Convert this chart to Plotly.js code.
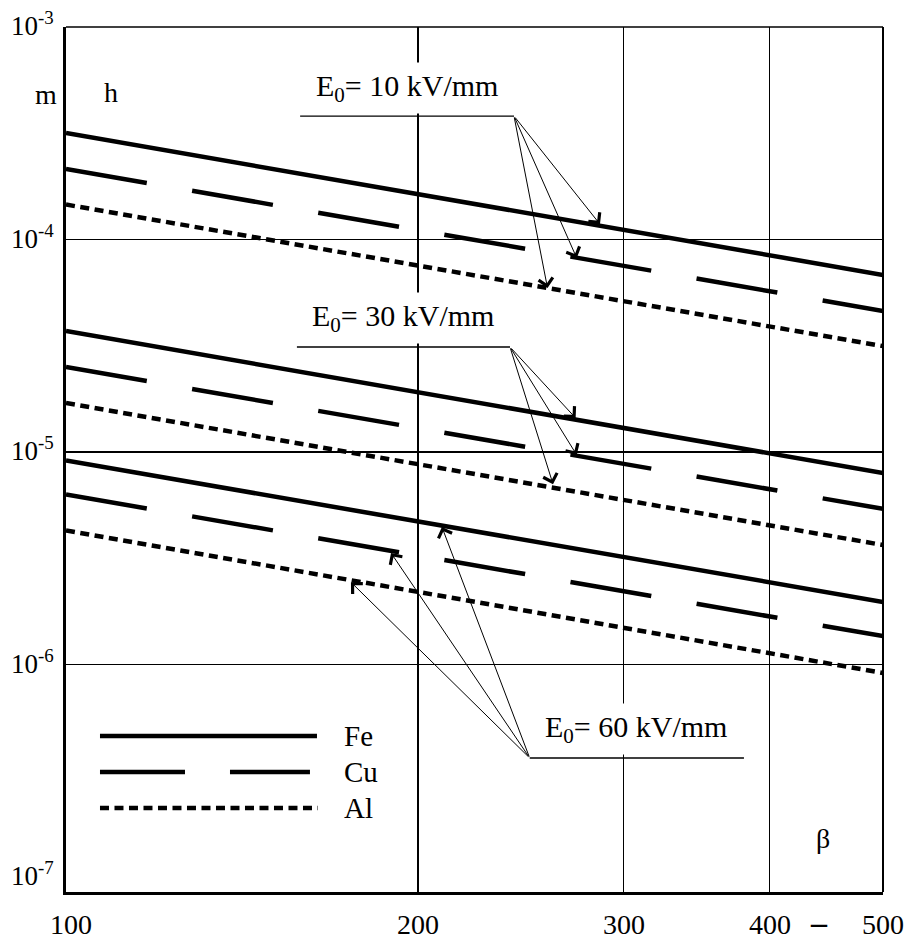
<!DOCTYPE html>
<html>
<head>
<meta charset="utf-8">
<script src="https://cdn.plot.ly/plotly-3.0.1.min.js"></script>
<style>html,body{margin:0;padding:0;background:#fff}#chart{width:908px;height:942px}</style>
</head>
<body>
<div id="chart"></div>
<script>
// ---- data (beta, h in m) ----
const beta = [100, 500];
const fe10 = [3.17e-4, 6.81e-5];
const cu10 = [2.15e-4, 4.61e-5];
const al10 = [1.46e-4, 3.15e-5];
const fe30 = [3.71e-5, 7.96e-6];
const cu30 = [2.51e-5, 5.40e-6];
const al30 = [1.70e-5, 3.65e-6];
const fe60 = [9.12e-6, 1.97e-6];
const cu60 = [6.31e-6, 1.36e-6];
const al60 = [4.27e-6, 9.12e-7];

const materials = ['Fe', 'Cu', 'Al'];
const fieldLabels = ['E<sub>0</sub>= 10 kV/mm', 'E<sub>0</sub>= 30 kV/mm', 'E<sub>0</sub>= 60 kV/mm'];
const xTickVals = [100, 200, 300, 400, 500];
const xTickText = ['100', '200', '300', '400', '500'];
const yTickVals = [1e-3, 1e-4, 1e-5, 1e-6, 1e-7];
const yTickText = ['10<sup>-3</sup>', '10<sup>-4</sup>', '10<sup>-5</sup>', '10<sup>-6</sup>', '10<sup>-7</sup>'];

// arrow tips (beta, h) on each curve, per field group [Fe, Cu, Al]
const tipBeta = [[286.3, 273.5, 258.2], [272.9, 273.5, 261.0], [209.7, 189.7, 175.3]];
const tipH = [[1.18e-4, 8.18e-5, 5.91e-5], [1.445e-5, 9.68e-6, 7.06e-6], [4.44e-6, 3.35e-6, 2.44e-6]];

// ---- styling / layout geometry ----
const FONT = '"Liberation Serif", "Times New Roman", "DejaVu Serif", serif';
const styles = {
  Fe: {width: 4.5, dash: 'solid'},
  Cu: {width: 4.5, dash: '82px,46px'},
  Al: {width: 4.5, dash: '9px,5.5px'}
};
const groups = [[fe10, cu10, al10], [fe30, cu30, al30], [fe60, cu60, al60]];

const traces = [];
groups.forEach(function (g) {
  g.forEach(function (vals, mi) {
    const m = materials[mi];
    traces.push({
      x: beta, y: vals, type: 'scatter', mode: 'lines',
      line: {color: '#000', width: styles[m].width, dash: styles[m].dash},
      showlegend: false, hoverinfo: 'skip', cliponaxis: false
    });
  });
});

// callout geometry: label centre, underline span and arrow tail (in beta,h)
const callouts = [
  {tx: 195.7, ty: 5.16e-4, u0: 158.6, u1: 241.7, uy: 3.81e-4},
  {tx: 194.2, ty: 4.27e-5, u0: 157.6, u1: 239.8, uy: 3.12e-5},
  {tx: 307.4, ty: 4.97e-7, u0: 249.3, u1: 380.2, uy: 3.63e-7}
];
const tails = [[241.7, 3.81e-4], [239.8, 3.12e-5], [249.3, 3.63e-7]];

const L = Math.log10;
const annotations = [];
const shapes = [];

// y tick labels
yTickVals.forEach(function (v, i) {
  annotations.push({x: -0.012, xref: 'paper', xanchor: 'right', y: L(v), yref: 'y', yanchor: 'middle',
    yshift: 3, text: yTickText[i], showarrow: false, font: {family: FONT, size: 27, color: '#000'}});
});
// x tick labels
xTickVals.forEach(function (v, i) {
  annotations.push({x: L(v), xref: 'x', xanchor: 'center', xshift: i === 0 ? 5 : 0, y: -0.0575, yref: 'paper', yanchor: 'bottom',
    text: xTickText[i], showarrow: false, font: {family: FONT, size: 28, color: '#000'}});
});
annotations.push({x: 0.935, xref: 'paper', y: -0.0575, yref: 'paper', yanchor: 'bottom', text: '<b>–</b>',
  showarrow: false, font: {family: FONT, size: 32, color: '#000'}});
// axis names
annotations.push({x: -0.040, xref: 'paper', y: 0.942, yref: 'paper', text: 'm', showarrow: false,
  font: {family: FONT, size: 28, color: '#000'}});
annotations.push({x: 0.044, xref: 'paper', y: 0.944, yref: 'paper', text: 'h', showarrow: false,
  font: {family: FONT, size: 28, color: '#000'}});
annotations.push({x: 0.9376, xref: 'paper', y: 0.0416, yref: 'paper', text: 'β', showarrow: false,
  font: {family: FONT, size: 28, color: '#000'}});

// field callouts
callouts.forEach(function (c, gi) {
  annotations.push({x: L(c.tx), xref: 'x', y: L(c.ty), yref: 'y', text: fieldLabels[gi], showarrow: false,
    bgcolor: '#fff', borderpad: 6, font: {family: FONT, size: 30, color: '#000'}});
  shapes.push({type: 'line', xref: 'x', yref: 'y', x0: c.u0, x1: c.u1, y0: c.uy, y1: c.uy,
    line: {color: '#000', width: 1.3}});
  for (let mi = 0; mi < 3; mi++) {
    annotations.push({x: L(tipBeta[gi][mi]), y: L(tipH[gi][mi]), xref: 'x', yref: 'y',
      ax: L(tails[gi][0]), ay: L(tails[gi][1]), axref: 'x', ayref: 'y',
      text: '', showarrow: true, arrowhead: 4, arrowsize: 2.8, arrowwidth: 1,
      arrowcolor: '#000', standoff: 0, startstandoff: 0});
  }
});

// frame top/right
shapes.push({type: 'line', xref: 'paper', yref: 'paper', x0: 0, x1: 1, y0: 1, y1: 1, line: {color: '#000', width: 1.7}});
shapes.push({type: 'line', xref: 'paper', yref: 'paper', x0: 1, x1: 1, y0: 0, y1: 1, line: {color: '#000', width: 2}});

// legend samples
const legY = [0.1803, 0.1387, 0.0971];
const legX1 = [0.3072, 0.2986, 0.3084];
materials.forEach(function (m, i) {
  shapes.push({type: 'line', xref: 'paper', yref: 'paper', x0: 0.0416, x1: legX1[i], y0: legY[i], y1: legY[i],
    line: {color: '#000', width: styles[m].width, dash: m === 'Cu' ? '85px,45px' : styles[m].dash}});
  annotations.push({x: 0.3378, xref: 'paper', xanchor: 'left', y: legY[i], yref: 'paper', yanchor: 'middle',
    text: m, showarrow: false, font: {family: FONT, size: 29, color: '#000'}});
});

const layout = {
  width: 908, height: 942,
  margin: {l: 66, r: 25, t: 27, b: 50, pad: 0},
  paper_bgcolor: '#fff', plot_bgcolor: '#fff',
  showlegend: false,
  font: {family: FONT, color: '#000'},
  xaxis: {type: 'log', range: [L(100), L(500)], tickvals: xTickVals, showticklabels: false, ticks: '',
    showgrid: true, gridcolor: '#000', gridwidth: 1.3, zeroline: false,
    showline: true, linecolor: '#000', linewidth: 3, mirror: false, fixedrange: true},
  yaxis: {type: 'log', range: [-7.0706, -3], tickvals: [1e-4, 1e-5, 1e-6], showticklabels: false, ticks: '',
    showgrid: true, gridcolor: '#000', gridwidth: 1.3, zeroline: false,
    showline: true, linecolor: '#000', linewidth: 3, mirror: false, fixedrange: true},
  annotations: annotations,
  shapes: shapes
};

Plotly.newPlot('chart', traces, layout, {staticPlot: true, displayModeBar: false});
</script>
</body>
</html>
